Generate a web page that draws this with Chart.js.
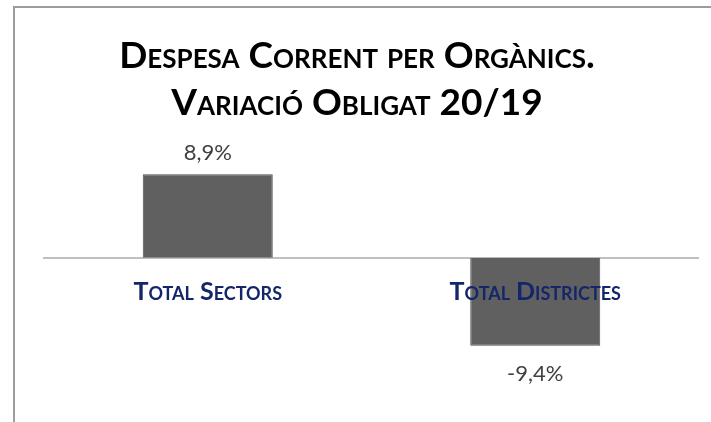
<!DOCTYPE html>
<html>
<head>
<meta charset="utf-8">
<script src="https://cdn.jsdelivr.net/npm/chart.js@4"></script>
<style>
    html, body { margin: 0; padding: 0; background: #fff; overflow: hidden; }
    #frame {
        position: absolute;
        left: 13px;
        top: 6px;
        width: 700px;
        height: 420px;
        border-top: 2px solid #9c9c9c;
        border-left: 2px solid #9c9c9c;
    }
    #chart { display: block; }
</style>
</head>
<body>
<div id="frame">
    <canvas id="chart" width="684" height="414"></canvas>
</div>
<script>
const categories = ['Total Sectors', 'Total Districtes'];
const values = [8.9, -9.4];
const titleLines = ['Despesa Corrent per Orgànics.', 'Variació Obligat 20/19'];

// etiquetes de valor a l'extrem de cada barra
const valueLabels = {
    id: 'valueLabels',
    afterDatasetsDraw(chart) {
        const ctx = chart.ctx;
        const meta = chart.getDatasetMeta(0);
        ctx.save();
        ctx.font = '22px Lato';
        ctx.fillStyle = '#404040';
        ctx.textAlign = 'center';
        ctx.textBaseline = 'middle';
        meta.data.forEach((bar, i) => {
            let v = values[i];
            let txt = v.toFixed(1).replace('.', ',') + '%';
            let y = v >= 0 ? bar.y - 21 : bar.y + 28;
            ctx.fillText(txt, bar.x, y);
        });
        ctx.restore();
    }
};

var myChart = new Chart(
    document.getElementById('chart'),
    {
        type: 'bar',
        data: {
            labels: categories,
            datasets: [{
                data: values,
                backgroundColor: '#606060',
                borderColor: '#505050',
                borderWidth: 1,
                barPercentage: 0.397,
                categoryPercentage: 1,
            }]
        },
        options: {
            responsive: false,
            animation: false,
            layout: {
                padding: { bottom: 33 }
            },
            plugins: {
                legend: { display: false },
                tooltip: { enabled: false },
                title: {
                    display: true,
                    text: titleLines,
                    color: '#000000',
                    font: { family: 'Lato', size: 37, weight: 'small-caps bold', lineHeight: 1.26 },
                    padding: { top: 25, bottom: 19 }
                }
            },
            scales: {
                x: {
                    position: { y: 0 },
                    grid: { display: false, drawTicks: false },
                    border: { display: true, color: '#c0c0c0', width: 2 },
                    ticks: {
                        z: 1,
                        color: '#14266a',
                        padding: 19,
                        font: { family: 'Lato', size: 25, weight: 'small-caps bold' }
                    }
                },
                y: {
                    min: -14,
                    max: 12,
                    grid: { display: false },
                    border: { display: false },
                    ticks: { display: false },
                    afterFit: (scale) => { scale.width = 29; }
                }
            }
        },
        plugins: [valueLabels]
    }
);
</script>
</body>
</html>
